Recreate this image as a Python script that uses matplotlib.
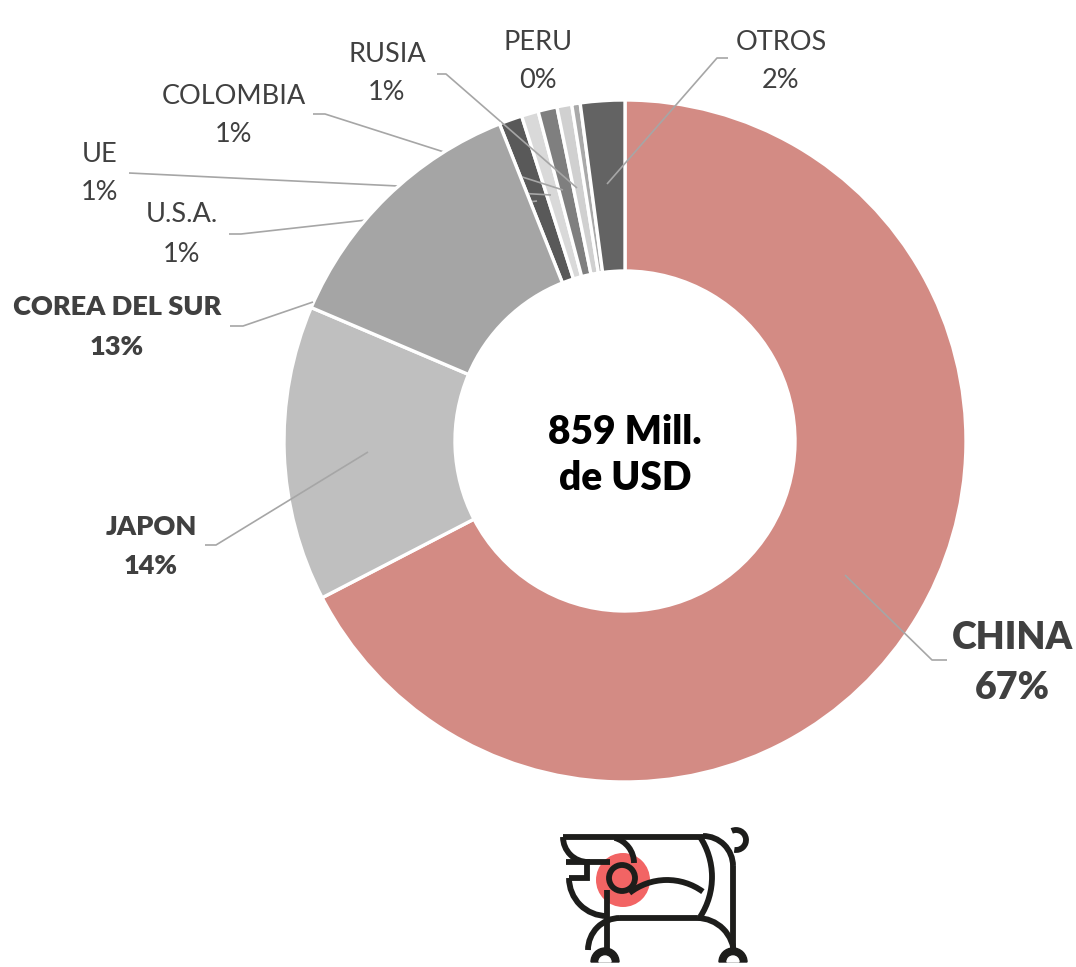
import matplotlib
matplotlib.use("Agg")
import matplotlib.pyplot as plt
from matplotlib.patches import Arc, Circle, Wedge

# ---------------- data ----------------
categories = ["CHINA", "JAPON", "COREA DEL SUR", "U.S.A.", "UE", "COLOMBIA", "RUSIA", "PERU", "OTROS"]
shares = [67.4, 14.0, 12.6, 1.1, 0.8, 0.9, 0.7, 0.4, 2.1]
colors = ["#D38B84", "#BFBFBF", "#A5A5A5", "#595959", "#D9D9D9", "#7F7F7F", "#D0D0D0", "#A9A9A9", "#636363"]
center_text = "859 Mill.\nde USD"

W, H = 1076, 967
def Y(y):
    return H - y

plt.rcParams['font.family'] = ['Lato', 'DejaVu Sans']
fig = plt.figure(figsize=(W / 100, H / 100), dpi=100)
ax = fig.add_axes([0, 0, 1, 1])

cx, cy, R = 625, 441, 341
wedges, _ = ax.pie(shares, colors=colors, startangle=90, counterclock=False,
                   center=(cx, Y(cy)), radius=R,
                   wedgeprops=dict(width=171, edgecolor="white", linewidth=2.4))
for w in wedges:
    w.set_zorder(1)
wedges[2].set_zorder(3)  # Corea above hidden leader parts

ax.set_xlim(0, W)
ax.set_ylim(0, H)
ax.set_aspect("equal")
ax.axis("off")

# ---------------- labels ----------------
TXT = "#404040"
LC = "#A6A6A6"
label_style = {
    "CHINA": ((1012, 638, 688), 27, True, [(947, 660), (932, 660), (845, 575)], 4),
    "JAPON": ((151, 527, 566), 19.5, True, [(205, 545), (216, 545), (368, 452)], 4),
    "COREA DEL SUR": ((117, 307, 347), 19.5, True, [(230, 326), (243, 326), (313, 302)], 4),
    "U.S.A.": ((182, 215, 254), 19.5, False, [(229, 234), (241, 234), (537, 201)], 2),
    "UE": ((100, 155, 192), 19.5, False, [(129, 173), (398, 186), (551, 195)], 2),
    "COLOMBIA": ((234, 97, 135), 19.5, False, [(313, 114), (325, 114), (563, 190)], 2),
    "RUSIA": ((387, 55, 93), 19.5, False, [(437, 74), (446, 74), (577, 188)], 2),
    "PERU": ((538, 42, 80), 19.5, False, None, 2),
    "OTROS": ((781, 42, 80), 19.5, False, [(728, 58), (717, 58), (607, 184)], 4),
}

for name, val in zip(categories, shares):
    (x, yn, yp), size, bold, pts, z = label_style[name]
    fw = "heavy" if bold else "normal"
    ax.text(x, Y(yn), name, ha="center", va="center", fontsize=size,
            fontweight=fw, color=TXT, zorder=6)
    ax.text(x, Y(yp), f"{round(val)}%", ha="center", va="center", fontsize=size,
            fontweight=fw, color=TXT, zorder=6)
    if pts:
        ax.plot([p[0] for p in pts], [Y(p[1]) for p in pts], color=LC,
                lw=1.2, zorder=z, solid_capstyle="butt")

ax.text(cx, Y(456), center_text, ha="center", va="center", fontsize=28,
        fontweight="heavy", color="black", linespacing=1.3, zorder=6)

# ---------------- logo (decorative) ----------------
K = "#1D1D1B"
LW = 4.2
ax.add_patch(Circle((623, Y(880)), 27, color="#F26464", zorder=7, lw=0))
def line(pts):
    ax.plot([p[0] for p in pts], [Y(p[1]) for p in pts], color=K, lw=LW,
            zorder=8, solid_capstyle="butt", solid_joinstyle="miter")
def arc(x, y, r, t1, t2):
    ax.add_patch(Arc((x, Y(y)), 2 * r, 2 * r, theta1=t1, theta2=t2,
                     color=K, lw=LW, zorder=8))

line([(563, 837), (704, 837)])            # top bar
arc(588, 837, 25, 180, 270)               # upper wing left
line([(588, 862), (610, 862)])
arc(608, 863, 26, 0, 75)                  # upper wing right
line([(566, 862), (587, 862), (587, 878), (569, 878)])  # step
arc(607, 878, 38, 180, 270)               # lower wing
ax.add_patch(Circle((622, Y(878)), 13, fill=False, ec=K, lw=LW, zorder=8))
line([(607, 890), (607, 950)])            # front leg
arc(667, 941, 61, 54, 128)                # belly top curve
line([(620, 918), (697, 918)])            # belly
arc(620, 950, 32, 90, 180)                # front leg join
arc(697, 955, 37, 0, 90)                  # hind leg curve
arc(703, 866, 30, 0, 90)                  # back curve
line([(733, 866), (733, 950)])            # rear
arc(736, 840, 10, -100, 115)              # tail
arc(639, 877, 73, -33, 34)                # chest curve
for fx in (605, 733):
    ax.add_patch(Wedge((fx, Y(962)), 14, 0, 180, color=K, zorder=9))
    ax.add_patch(Wedge((fx, Y(962)), 6, 0, 180, color="white", zorder=10))

fig.savefig("out.png", dpi=100, facecolor="white")
